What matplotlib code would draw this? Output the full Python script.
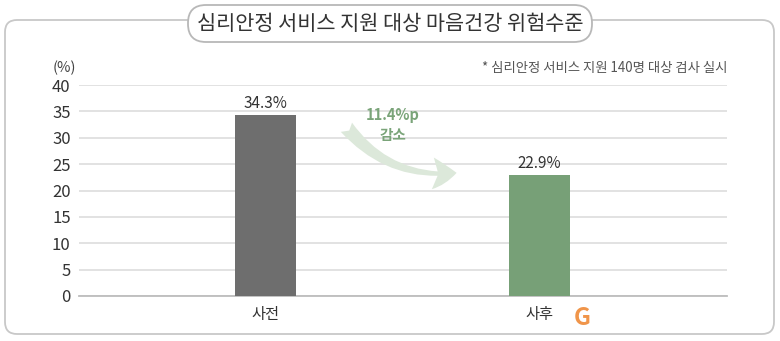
import matplotlib
matplotlib.use('Agg')
import matplotlib.pyplot as plt
from matplotlib.patches import FancyBboxPatch, FancyArrowPatch

plt.rcParams['font.family'] = ['Noto Sans CJK KR', 'DejaVu Sans']

# data
categories = ['사전', '사후']
values = [34.3, 22.9]
bar_colors = ['#6e6e6e', '#77a077']
yticks = [0, 5, 10, 15, 20, 25, 30, 35, 40]
title = '심리안정 서비스 지원 대상 마음건강 위험수준'
note = '* 심리안정 서비스 지원 140명 대상 검사 실시'
change_label = '11.4%p\n감소'

W, H = 780, 341
fig = plt.figure(figsize=(W / 100, H / 100), dpi=100)

# background frame + title pill, drawn in pixel coords
bg = fig.add_axes([0, 0, 1, 1])
bg.set_xlim(0, W)
bg.set_ylim(H, 0)
bg.axis('off')
frame = FancyBboxPatch((5, 20), 769, 314, boxstyle='round,pad=0,rounding_size=12',
                       fc='white', ec='#c8c8c8', lw=1.3)
bg.add_patch(frame)
pill = FancyBboxPatch((188, 5), 404, 37, boxstyle='round,pad=0,rounding_size=18',
                      fc='white', ec='#b8b8b8', lw=1.3)
bg.add_patch(pill)
bg.text(390, 23.5, title, ha='center', va='center', fontsize=15, color='#333333')
bg.text(727, 68, note, ha='right', va='center', fontsize=9.6, color='#555555')
bg.text(64, 68, '(%)', ha='center', va='center', fontsize=10.5, color='#444444')
bg.text(582, 318, 'G', ha='center', va='center', fontsize=17, fontweight='bold',
        color='#f0954a')

# main chart
ax = fig.add_axes([79 / W, 45 / H, 648 / W, 211 / H])
ax.patch.set_alpha(0)
x = range(len(categories))
ax.bar(x, values, width=0.22, color=bar_colors, zorder=3)
for xi, v in zip(x, values):
    ax.text(xi, v + 0.6, f'{v}%', ha='center', va='bottom', fontsize=11, color='#333333')

ax.set_xlim(-0.68, 1.684)
ax.set_ylim(0, 40)
ax.set_yticks(yticks)
ax.set_yticklabels([str(t) for t in yticks], fontsize=12, color='#333333')
ax.set_xticks(list(x))
ax.set_xticklabels(categories, fontsize=11, color='#333333')
ax.tick_params(axis='both', length=0)
ax.tick_params(axis='y', pad=6)
ax.tick_params(axis='x', pad=7)
ax.grid(axis='y', color='#dadada', lw=1.1, zorder=0)
for s in ['top', 'right', 'left']:
    ax.spines[s].set_visible(False)
ax.spines['bottom'].set_color('#bdbdbd')
ax.spines['bottom'].set_linewidth(1.3)

# change arrow
arrow = FancyArrowPatch((0.41, 0.81), (0.587, 0.585), transform=ax.transAxes,
                        connectionstyle='arc3,rad=0.28',
                        arrowstyle='fancy,head_length=0.9,head_width=1.2,tail_width=0.55',
                        mutation_scale=19, fc='#dce8da', ec='none', zorder=2)
ax.add_patch(arrow)
ax.text(0.484, 0.81, change_label, transform=ax.transAxes, ha='center', va='center',
        fontsize=10.5, fontweight='bold', color='#7aa479', linespacing=1.3, zorder=4)

fig.savefig('out.png', dpi=100)
